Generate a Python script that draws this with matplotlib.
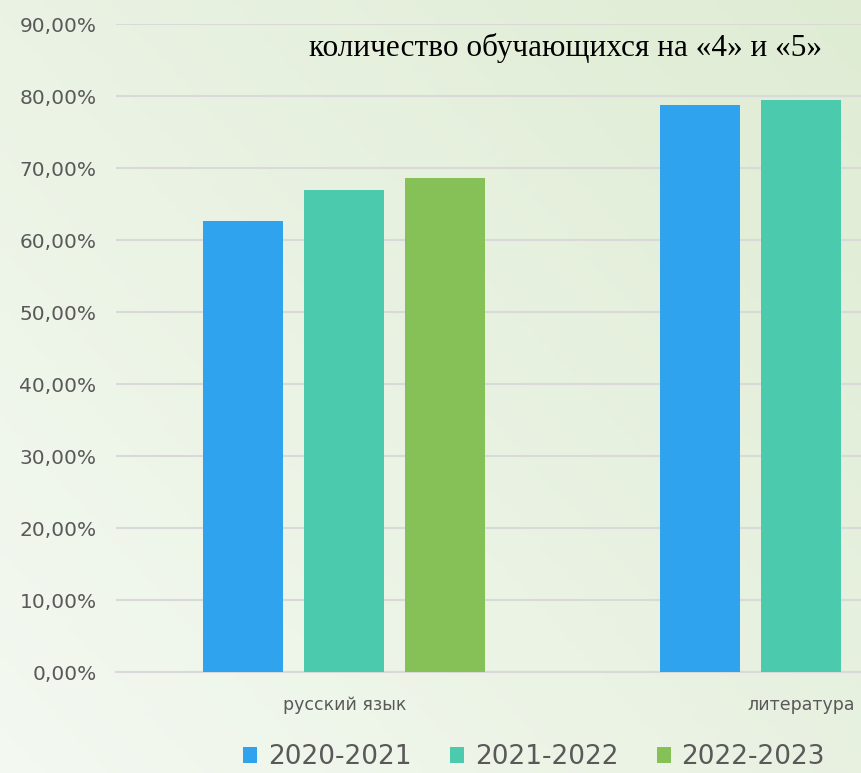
import numpy as np
import matplotlib.pyplot as plt
from matplotlib.patches import Patch
from matplotlib.ticker import FuncFormatter

# data (percent)
subjects = ["русский язык", "литература"]
years = ["2020-2021", "2021-2022", "2022-2023"]
v_2020 = [62.6, 78.8]
v_2021 = [67.0, 79.4]
v_2022 = [68.6, np.nan]  # literature bar is cut off at the right edge
colors = ["#2FA3EE", "#4BCAAD", "#86C157"]
title = "количество обучающихся на «4» и «5»"

fig = plt.figure(figsize=(8.61, 7.73), dpi=100)

# soft green background gradient
bg = fig.add_axes([0, 0, 1, 1], zorder=-10)
xx, yy = np.meshgrid(np.linspace(0, 1, 200), np.linspace(0, 1, 200))
t = np.clip(0.55 * xx + 0.45 * yy, 0, 1)
c0 = np.array([0.955, 0.975, 0.945])
c1 = np.array([0.875, 0.925, 0.830])
img = c0[None, None, :] * (1 - t[..., None]) + c1[None, None, :] * t[..., None]
bg.imshow(img, origin="lower", aspect="auto", extent=[0, 1, 0, 1])
bg.axis("off")

ax = fig.add_axes([116 / 861, 1 - 672 / 773, 1 - 116 / 861, (672 - 24) / 773])
ax.patch.set_alpha(0)

x = np.arange(len(subjects))
w = 0.175
step = 0.2215
for i, (vals, c, lab) in enumerate(zip([v_2020, v_2021, v_2022], colors, years)):
    ax.bar(x + (i - 1) * step, vals, width=w, color=c, label=lab, zorder=3)

ax.set_ylim(0, 90)
ax.set_yticks(np.arange(0, 91, 10))
ax.yaxis.set_major_formatter(FuncFormatter(lambda v, p: f"{v:.2f}%".replace(".", ",")))
ax.set_xlim(-0.5, 1.132)
ax.set_xticks(x)
ax.set_xticklabels(subjects)

ax.grid(axis="y", color="#d9d9d9", linewidth=1.5, zorder=0)
for s in ["left", "right", "top"]:
    ax.spines[s].set_visible(False)
ax.spines["bottom"].set_color("#d9d9d9")
ax.spines["bottom"].set_linewidth(1.5)
ax.tick_params(axis="y", length=0, pad=14, labelsize=14.5, labelcolor="#595959")
ax.tick_params(axis="x", length=0, pad=17, labelsize=12.5, labelcolor="#595959")

fig.text(822 / 861, 1 - 48 / 773, title, ha="right", va="center",
         fontsize=22.5, family="Liberation Serif", color="black")

handles = [Patch(facecolor=c, edgecolor="none") for c in colors]
fig.legend(handles, years, loc="center", bbox_to_anchor=(534 / 861, 1 - 757 / 773),
           ncol=3, frameon=False, fontsize=19, labelcolor="#595959",
           handlelength=0.55, handleheight=0.55, handletextpad=0.4, columnspacing=1.45)

fig.savefig("out.png", dpi=100)
